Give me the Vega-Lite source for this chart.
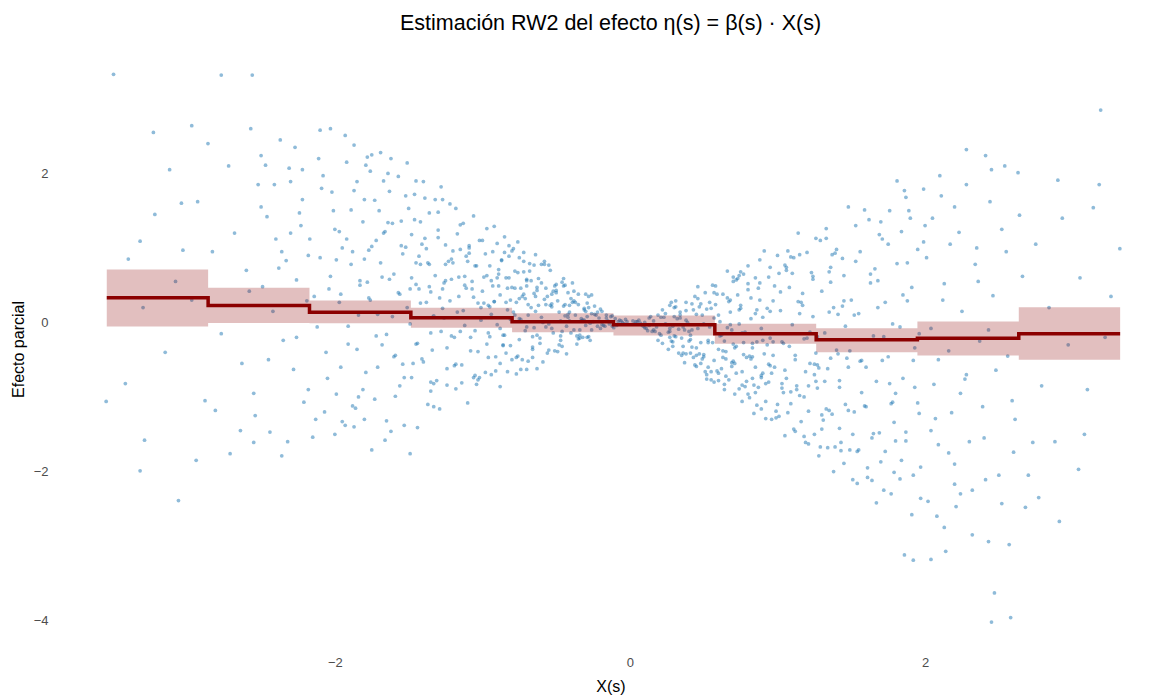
{
"$schema": "https://vega.github.io/schema/vega-lite/v6.json",
"width": 1109, "height": 602,
"autosize": {"type": "none"},
"padding": {"left": 56, "top": 48, "right": 0, "bottom": 48},
"background": "white",
"config": {"view": {"stroke": null}, "font": "Liberation Sans",
  "axis": {"domain": false, "ticks": false, "grid": false, "labelColor": "#4D4D4D", "labelFontSize": 13, "labelFont": "Liberation Sans", "titleFont": "Liberation Sans", "titleFontSize": 16, "titleFontWeight": "normal", "titleColor": "black", "format": "~g"}},
"title": {"text": "Estimación RW2 del efecto η(s) = β(s) · X(s)", "fontSize": 21.5, "fontWeight": "normal", "color": "black", "anchor": "middle", "offset": 14, "font": "Liberation Sans"},
"datasets": {
"steps": [
{"x":-3.546,"est":0.332,"lo":-0.054,"hi":0.711},
{"x":-2.859,"est":0.228,"lo":-0.008,"hi":0.466},
{"x":-2.172,"est":0.138,"lo":-0.01,"hi":0.295},
{"x":-1.485,"est":0.063,"lo":-0.07,"hi":0.197},
{"x":-0.799,"est":0.008,"lo":-0.13,"hi":0.125},
{"x":-0.112,"est":-0.031,"lo":-0.175,"hi":0.094},
{"x":0.575,"est":-0.152,"lo":-0.286,"hi":-0.017},
{"x":1.262,"est":-0.232,"lo":-0.399,"hi":-0.077},
{"x":1.948,"est":-0.211,"lo":-0.443,"hi":0.013},
{"x":2.635,"est":-0.152,"lo":-0.501,"hi":0.205},
{"x":3.322,"est":-0.152,"lo":-0.501,"hi":0.205}
],
"pts": [
{"x":-0.03,"y":0.04},{"x":-0.06,"y":0.02},{"x":-0.08,"y":0.01},{"x":-0.11,"y":-0.07},{"x":-0.13,"y":0.08},{"x":-0.15,"y":0.02},{"x":-0.17,"y":-0.05},{"x":-0.19,"y":0.15},{"x":-0.21,"y":0.06},{"x":-0.22,"y":-0.05},{"x":-0.24,"y":0.22},{"x":-0.26,"y":0.12},{"x":-0.27,"y":-0.01},{"x":-0.29,"y":-0.2},{"x":-0.31,"y":0.17},{"x":-0.32,"y":0.03},{"x":-0.34,"y":-0.17},{"x":-0.35,"y":0.24},{"x":-0.37,"y":0.1},{"x":-0.38,"y":-0.1},{"x":-0.4,"y":0.32},{"x":-0.41,"y":0.14},{"x":-0.43,"y":-0.05},{"x":-0.44,"y":0.5},{"x":-0.45,"y":0.22},{"x":-0.47,"y":0.02},{"x":-0.48,"y":-0.3},{"x":-0.49,"y":0.29},{"x":-0.05,"y":0},{"x":-0.09,"y":-0.04},{"x":-0.12,"y":0.09},{"x":-0.16,"y":0.06},{"x":-0.18,"y":-0.04},{"x":-0.2,"y":0.18},{"x":-0.23,"y":0.1},{"x":-0.25,"y":0.01},{"x":-0.28,"y":-0.19},{"x":-0.3,"y":0.15},{"x":-0.33,"y":0.05},{"x":-0.36,"y":-0.18},{"x":-0.39,"y":0.27},{"x":-0.42,"y":0.11},{"x":-0.46,"y":-0.12},{"x":-0.5,"y":0.4},{"x":-0.07,"y":0.03},{"x":-0.14,"y":-0.02},{"x":-0.24,"y":0.11},{"x":-0.31,"y":0.03},{"x":-0.35,"y":-0.22},{"x":-0.41,"y":0.23},{"x":-0.44,"y":0.09},{"x":-0.47,"y":-0.18},{"x":-0.38,"y":0.29},{"x":-0.29,"y":0.08},{"x":-0.19,"y":-0.03},
{"x":-0.51,"y":0.49},{"x":-0.53,"y":0.21},{"x":-0.55,"y":-0.02},{"x":-0.56,"y":-0.41},{"x":-0.58,"y":0.31},{"x":-0.6,"y":0.07},{"x":-0.61,"y":-0.28},{"x":-0.63,"y":0.43},{"x":-0.64,"y":0.15},{"x":-0.66,"y":-0.19},{"x":-0.67,"y":0.56},{"x":-0.69,"y":0.24},{"x":-0.7,"y":-0.06},{"x":-0.72,"y":0.82},{"x":-0.73,"y":0.35},{"x":-0.75,"y":0.05},{"x":-0.76,"y":-0.45},{"x":-0.78,"y":0.46},{"x":-0.79,"y":0.14},{"x":-0.81,"y":-0.31},{"x":-0.82,"y":0.6},{"x":-0.84,"y":0.27},{"x":-0.85,"y":-0.17},{"x":-0.87,"y":0.84},{"x":-0.88,"y":0.37},{"x":-0.9,"y":-0.03},{"x":-0.91,"y":-0.65},{"x":-0.93,"y":0.49},{"x":-0.94,"y":0.11},{"x":-0.96,"y":-0.47},{"x":-0.97,"y":0.63},{"x":-0.99,"y":0.26},{"x":-0.52,"y":-0.14},{"x":-0.57,"y":0.46},{"x":-0.62,"y":0.23},{"x":-0.65,"y":-0.07},{"x":-0.68,"y":0.79},{"x":-0.71,"y":0.32},{"x":-0.74,"y":0.04},{"x":-0.77,"y":-0.47},{"x":-0.8,"y":0.47},{"x":-0.83,"y":0.17},{"x":-0.86,"y":-0.31},{"x":-0.89,"y":0.65},{"x":-0.92,"y":0.28},{"x":-0.95,"y":-0.19},{"x":-0.98,"y":0.92},{"x":-0.54,"y":0.23},{"x":-0.59,"y":0},{"x":-0.66,"y":-0.47},{"x":-0.72,"y":0.38},{"x":-0.78,"y":0.1},{"x":-0.84,"y":-0.41},{"x":-0.9,"y":0.6},{"x":-0.96,"y":0.23},{"x":-0.63,"y":-0.17},{"x":-0.7,"y":0.58},{"x":-0.81,"y":0.3},{"x":-0.88,"y":-0.08},{"x":-0.75,"y":0.87},
{"x":-1.01,"y":0.2},{"x":-1.03,"y":-0.39},{"x":-1.04,"y":0.76},{"x":-1.06,"y":0.34},{"x":-1.08,"y":-0.2},{"x":-1.09,"y":1.03},{"x":-1.11,"y":0.46},{"x":-1.12,"y":-0.04},{"x":-1.14,"y":-0.81},{"x":-1.16,"y":0.61},{"x":-1.17,"y":0.14},{"x":-1.19,"y":-0.58},{"x":-1.2,"y":0.8},{"x":-1.22,"y":0.29},{"x":-1.24,"y":-0.34},{"x":-1.25,"y":1.04},{"x":-1.27,"y":0.45},{"x":-1.28,"y":-0.12},{"x":-1.3,"y":1.48},{"x":-1.32,"y":0.63},{"x":-1.33,"y":0.09},{"x":-1.35,"y":-0.8},{"x":-1.36,"y":0.78},{"x":-1.38,"y":0.27},{"x":-1.4,"y":-0.53},{"x":-1.41,"y":1.05},{"x":-1.43,"y":0.45},{"x":-1.44,"y":-0.28},{"x":-1.46,"y":1.38},{"x":-1.48,"y":0.6},{"x":-1.49,"y":-0.02},{"x":-1.02,"y":-0.74},{"x":-1.07,"y":0.55},{"x":-1.13,"y":0.16},{"x":-1.18,"y":-0.56},{"x":-1.23,"y":0.82},{"x":-1.29,"y":0.33},{"x":-1.34,"y":-0.37},{"x":-1.39,"y":1.13},{"x":-1.45,"y":0.51},{"x":-1.05,"y":-0.11},{"x":-1.15,"y":1.31},{"x":-1.21,"y":0.58},{"x":-1.26,"y":0.06},{"x":-1.31,"y":-0.78},{"x":-1.37,"y":0.8},{"x":-1.42,"y":0.26},{"x":-1.47,"y":-0.55},{"x":-1.1,"y":0.82},{"x":-1.35,"y":0.41},
{"x":-1.51,"y":0.2},{"x":-1.53,"y":-0.74},{"x":-1.55,"y":1.03},{"x":-1.57,"y":0.4},{"x":-1.59,"y":-0.44},{"x":-1.61,"y":1.33},{"x":-1.63,"y":0.58},{"x":-1.65,"y":-0.16},{"x":-1.67,"y":1.9},{"x":-1.69,"y":0.8},{"x":-1.71,"y":0.11},{"x":-1.73,"y":-1.03},{"x":-1.75,"y":1.02},{"x":-1.77,"y":0.33},{"x":-1.79,"y":-0.67},{"x":-1.81,"y":1.35},{"x":-1.83,"y":0.56},{"x":-1.85,"y":-0.36},{"x":-1.87,"y":1.77},{"x":-1.89,"y":0.78},{"x":-1.91,"y":-0.05},{"x":-1.93,"y":-1.38},{"x":-1.95,"y":1.0},{"x":-1.97,"y":0.27},{"x":-1.99,"y":-0.96},{"x":-1.52,"y":1.01},{"x":-1.56,"y":0.38},{"x":-1.6,"y":-0.46},{"x":-1.64,"y":1.34},{"x":-1.68,"y":0.61},{"x":-1.72,"y":-0.18},{"x":-1.76,"y":2.03},{"x":-1.8,"y":0.85},{"x":-1.84,"y":0.1},{"x":-1.88,"y":-1.12},{"x":-1.92,"y":1.12},{"x":-1.96,"y":0.38},{"x":-1.54,"y":-0.56},{"x":-1.66,"y":1.22},{"x":-1.78,"y":0.54},
{"x":-2.01,"y":1.5},{"x":-2.03,"y":0.62},{"x":-2.06,"y":-0.4},{"x":-2.08,"y":1.97},{"x":-2.1,"y":0.87},{"x":-2.12,"y":-0.06},{"x":-2.15,"y":-1.54},{"x":-2.17,"y":1.12},{"x":-2.19,"y":0.29},{"x":-2.21,"y":-1.07},{"x":-2.24,"y":1.47},{"x":-2.26,"y":0.57},{"x":-2.28,"y":-0.63},{"x":-2.3,"y":1.89},{"x":-2.33,"y":0.83},{"x":-2.35,"y":-0.24},{"x":-2.37,"y":2.45},{"x":-2.4,"y":1.12},{"x":-2.42,"y":0.15},{"x":-2.44,"y":-1.47},{"x":-2.46,"y":1.42},{"x":-2.49,"y":0.48},{"x":-2.05,"y":-0.75},{"x":-2.22,"y":1.65},{"x":-2.38,"y":0.73},
{"x":-2.52,"y":1.85},{"x":-2.58,"y":0.42},{"x":-2.63,"y":-0.55},{"x":-2.68,"y":1.2},{"x":-2.72,"y":2.1},{"x":-2.77,"y":-0.15},{"x":-2.83,"y":0.95},{"x":-2.88,"y":-1.05},{"x":-2.93,"y":1.62},{"x":-2.97,"y":0.3},{"x":-2.55,"y":-0.95},{"x":-2.86,"y":2.4},
{"x":-3.08,"y":0.55},{"x":-3.15,"y":-0.4},{"x":-3.22,"y":1.45},{"x":-3.3,"y":0.2},{"x":-3.4,"y":0.85},{"x":-3.12,"y":2.05},
{"x":-3.5,"y":3.33},{"x":-2.77,"y":3.32},{"x":-2.56,"y":3.32},{"x":-3.23,"y":2.55},{"x":-2.97,"y":2.64},{"x":-2.5,"y":2.24},{"x":-3.04,"y":1.6},{"x":-3.32,"y":1.09},{"x":-3.03,"y":0.97},{"x":-3.55,"y":-1.06},{"x":-3.42,"y":-0.82},{"x":-3.29,"y":-1.58},{"x":-3.32,"y":-1.99},{"x":-3.06,"y":-2.39},{"x":-2.94,"y":-1.85},{"x":-2.71,"y":-1.76},{"x":-2.55,"y":-1.61},{"x":-2.64,"y":-1.45},{"x":-2.81,"y":-1.18},
{"x":-2.1,"y":2.58},{"x":-2.03,"y":2.6},{"x":-1.87,"y":2.38},{"x":-2.31,"y":2.07},{"x":-2.47,"y":2.11},{"x":-1.62,"y":2.2},{"x":-1.45,"y":1.9},{"x":-1.75,"y":2.25},{"x":-2.36,"y":-1.79},{"x":-1.49,"y":-1.76},{"x":-1.66,"y":-1.58},{"x":-2.0,"y":-1.5},{"x":-1.8,"y":-1.3},
{"x":-0.26,"y":0.37},{"x":-0.27,"y":-0.24},{"x":-0.29,"y":0.26},{"x":-0.3,"y":0.38},{"x":-0.32,"y":-0.2},{"x":-0.33,"y":0.02},{"x":-0.35,"y":0.38},{"x":-0.36,"y":-0.29},{"x":-0.37,"y":0.27},{"x":-0.39,"y":0.53},{"x":-0.4,"y":-0.14},{"x":-0.42,"y":0.4},{"x":-0.43,"y":-0.42},{"x":-0.44,"y":0.24},{"x":-0.46,"y":0.54},{"x":-0.47,"y":-0.24},{"x":-0.48,"y":0.14},{"x":-0.5,"y":0.51},{"x":-0.51,"y":-0.38},{"x":-0.52,"y":0.42},{"x":-0.53,"y":-0.08},{"x":-0.54,"y":0.7},{"x":-0.55,"y":-0.37},{"x":-0.56,"y":0.35},{"x":-0.57,"y":0.24},{"x":-0.58,"y":0.82},{"x":-0.59,"y":-0.53},{"x":-0.6,"y":0.53},{"x":-0.28,"y":0.35},{"x":-0.34,"y":-0.21},{"x":-0.41,"y":0.02},{"x":-0.45,"y":0.49},{"x":-0.49,"y":-0.39},{"x":-0.53,"y":0.38},{"x":-0.58,"y":0.78},
{"x":-0.61,"y":-0.21},{"x":-0.62,"y":0.59},{"x":-0.63,"y":-0.62},{"x":-0.64,"y":0.35},{"x":-0.65,"y":0.77},{"x":-0.66,"y":-0.33},{"x":-0.67,"y":0.2},{"x":-0.68,"y":0.69},{"x":-0.69,"y":-0.52},{"x":-0.7,"y":0.56},{"x":-0.71,"y":-0.11},{"x":-0.72,"y":0.94},{"x":-0.73,"y":-0.5},{"x":-0.74,"y":0.46},{"x":-0.75,"y":0.32},{"x":-0.76,"y":1.08},{"x":-0.77,"y":-0.69},{"x":-0.78,"y":0.69},{"x":-0.79,"y":0.99},{"x":-0.8,"y":-0.5},{"x":-0.81,"y":0.04},{"x":-0.82,"y":0.89},{"x":-0.83,"y":-0.66},{"x":-0.84,"y":0.6},{"x":-0.85,"y":1.15},{"x":-0.86,"y":-0.3},{"x":-0.87,"y":0.83},{"x":-0.88,"y":-0.86},{"x":-0.89,"y":0.49},{"x":-0.9,"y":1.06},{"x":-0.91,"y":-0.46},{"x":-0.92,"y":0.28},{"x":-0.93,"y":0.95},{"x":-0.94,"y":-0.7},{"x":-0.95,"y":0.76},{"x":-0.96,"y":-0.14},{"x":-0.97,"y":1.26},{"x":-0.98,"y":-0.67},{"x":-0.99,"y":0.61},{"x":-1.0,"y":0.42},{"x":-0.64,"y":0.91},{"x":-0.7,"y":-0.63},{"x":-0.76,"y":0.67},{"x":-0.82,"y":1.03},{"x":-0.88,"y":-0.55},
{"x":-1.01,"y":0.03},{"x":-1.02,"y":1.1},{"x":-1.04,"y":-0.83},{"x":-1.05,"y":0.76},{"x":-1.06,"y":1.43},{"x":-1.08,"y":-0.38},{"x":-1.09,"y":1.0},{"x":-1.1,"y":-1.08},{"x":-1.12,"y":0.62},{"x":-1.13,"y":1.33},{"x":-1.14,"y":-0.57},{"x":-1.16,"y":0.35},{"x":-1.17,"y":1.19},{"x":-1.18,"y":-0.89},{"x":-1.2,"y":0.96},{"x":-1.21,"y":-0.18},{"x":-1.22,"y":1.59},{"x":-1.24,"y":-0.84},{"x":-1.25,"y":0.78},{"x":-1.26,"y":0.53},{"x":-1.28,"y":1.82},{"x":-1.29,"y":-1.16},{"x":-1.3,"y":1.14},{"x":-1.32,"y":1.65},{"x":-1.33,"y":-0.82},{"x":-1.34,"y":0.07},{"x":-1.36,"y":1.47},{"x":-1.37,"y":-1.1},{"x":-1.38,"y":0.99},{"x":-1.4,"y":1.89},{"x":-1.41,"y":-0.49},{"x":-1.42,"y":1.35},{"x":-1.44,"y":-1.41},{"x":-1.45,"y":0.8},{"x":-1.46,"y":1.72},{"x":-1.48,"y":-0.74},{"x":-1.49,"y":0.45},{"x":-1.5,"y":1.53},{"x":-1.03,"y":-0.77},{"x":-1.11,"y":0.89},{"x":-1.19,"y":-0.2},{"x":-1.27,"y":1.65},{"x":-1.35,"y":-0.92},{"x":-1.43,"y":0.89},{"x":-1.07,"y":0.45},
{"x":-1.51,"y":2.14},{"x":-1.53,"y":-1.38},{"x":-1.55,"y":1.36},{"x":-1.57,"y":1.96},{"x":-1.59,"y":-0.99},{"x":-1.61,"y":0.08},{"x":-1.63,"y":1.76},{"x":-1.65,"y":-1.32},{"x":-1.67,"y":1.2},{"x":-1.69,"y":2.28},{"x":-1.71,"y":-0.6},{"x":-1.73,"y":1.64},{"x":-1.75,"y":-1.71},{"x":-1.77,"y":0.97},{"x":-1.79,"y":2.11},{"x":-1.81,"y":-0.9},{"x":-1.83,"y":0.5},{"x":-1.85,"y":1.89},{"x":-1.87,"y":-1.4},{"x":-1.89,"y":1.51},{"x":-1.91,"y":-0.29},{"x":-1.93,"y":2.51},{"x":-1.95,"y":-1.33},{"x":-1.97,"y":1.22},{"x":-1.99,"y":0.84},{"x":-1.54,"y":0.92},{"x":-1.62,"y":-1.46},{"x":-1.7,"y":1.5},{"x":-1.78,"y":2.22},{"x":-1.86,"y":-1.15},
{"x":-2.02,"y":1.75},{"x":-2.07,"y":-1.2},{"x":-2.11,"y":2.2},{"x":-2.14,"y":0.35},{"x":-2.18,"y":-0.9},{"x":-2.23,"y":1.3},{"x":-2.27,"y":2.35},{"x":-2.32,"y":-1.6},{"x":-2.36,"y":0.95},{"x":-2.41,"y":1.85},{"x":-2.45,"y":-0.5},{"x":-2.5,"y":1.55},{"x":-2.54,"y":-1.25},{"x":-2.57,"y":2.6},{"x":-2.6,"y":0.7},
{"x":-0.31,"y":0.19},{"x":-0.34,"y":-0.1},{"x":-0.38,"y":0.42},{"x":-0.42,"y":0.07},{"x":-0.46,"y":-0.32},{"x":-0.5,"y":0.43},{"x":-0.53,"y":0.25},{"x":-0.57,"y":-0.06},{"x":-0.6,"y":0.78},{"x":-0.63,"y":0.47},{"x":-0.66,"y":-0.36},{"x":-0.69,"y":0.1},{"x":-0.72,"y":0.68},{"x":-0.74,"y":-0.63},{"x":-0.77,"y":0.27},{"x":-0.8,"y":0.96},{"x":-0.83,"y":0.46},{"x":-0.86,"y":-0.17},{"x":-0.89,"y":0.71},{"x":-0.92,"y":1.29},{"x":-0.94,"y":0.56},{"x":-0.97,"y":-0.29},{"x":-1.0,"y":1.1},{"x":-1.03,"y":0.26},{"x":-1.06,"y":-0.74},{"x":-1.09,"y":0.93},{"x":-1.12,"y":0.5},{"x":-1.15,"y":-0.12},{"x":-1.18,"y":1.53},{"x":-1.21,"y":0.85},{"x":-1.24,"y":-0.62},{"x":-1.27,"y":0.19},{"x":-1.3,"y":1.24},{"x":-1.33,"y":-1.13},{"x":-1.36,"y":0.48},{"x":-1.39,"y":1.67},{"x":-1.42,"y":0.78},{"x":-1.45,"y":-0.29},{"x":-1.48,"y":1.18},{"x":-0.55,"y":0.77},{"x":-0.65,"y":0.39},{"x":-0.75,"y":-0.23},{"x":-0.85,"y":0.94},{"x":-0.95,"y":0.21},{"x":-1.05,"y":-0.71},{"x":-1.15,"y":0.98},{"x":-1.25,"y":0.56},{"x":-1.35,"y":-0.14},{"x":-0.45,"y":0.59},{"x":-0.7,"y":0.49},
{"x":-1.52,"y":1.7},{"x":-1.56,"y":-0.85},{"x":-1.6,"y":0.65},{"x":-1.64,"y":2.0},{"x":-1.68,"y":-0.3},{"x":-1.72,"y":1.1},{"x":-1.76,"y":0.3},{"x":-1.8,"y":1.65},{"x":-1.84,"y":-1.0},{"x":-1.88,"y":0.95},{"x":-1.92,"y":2.15},{"x":-1.96,"y":-0.6},{"x":-2.0,"y":1.25},{"x":-2.04,"y":0.45},{"x":-2.09,"y":1.8},{"x":-2.13,"y":-1.3},{"x":-2.18,"y":0.9},{"x":-2.22,"y":2.05},{"x":-2.26,"y":-0.2},{"x":-2.3,"y":1.2},
{"x":-0.02,"y":0.01},{"x":-0.04,"y":-0.02},{"x":-0.1,"y":0.05},{"x":-0.12,"y":-0.05},{"x":-0.16,"y":0.1},{"x":-0.2,"y":-0.08},{"x":-0.22,"y":0.14},{"x":-0.26,"y":-0.1},{"x":-0.28,"y":0.2},{"x":-0.3,"y":-0.04},
{"x":0.03,"y":-0.02},{"x":0.05,"y":0.01},{"x":0.1,"y":-0.07},{"x":0.13,"y":0.06},{"x":0.16,"y":-0.1},{"x":0.19,"y":0.1},{"x":0.21,"y":-0.17},{"x":0.24,"y":0.12},{"x":0.27,"y":-0.2},{"x":0.29,"y":-0.05},
{"x":0.02,"y":0.02},{"x":0.04,"y":0.01},{"x":0.07,"y":-0.01},{"x":0.09,"y":-0.05},{"x":0.12,"y":-0.11},{"x":0.14,"y":0.08},{"x":0.16,"y":0.02},{"x":0.18,"y":-0.06},{"x":0.2,"y":-0.15},{"x":0.22,"y":-0.28},{"x":0.23,"y":0.07},{"x":0.25,"y":-0.03},{"x":0.27,"y":-0.12},{"x":0.28,"y":-0.25},{"x":0.3,"y":0.2},{"x":0.32,"y":0.05},{"x":0.33,"y":-0.09},{"x":0.35,"y":-0.21},{"x":0.36,"y":-0.41},{"x":0.38,"y":0.16},{"x":0.39,"y":0},{"x":0.41,"y":-0.17},{"x":0.42,"y":-0.33},{"x":0.44,"y":0.35},{"x":0.45,"y":0.11},{"x":0.46,"y":-0.08},{"x":0.48,"y":-0.27},{"x":0.49,"y":-0.49},{"x":0.06,"y":0.03},{"x":0.1,"y":0},{"x":0.13,"y":-0.04},{"x":0.17,"y":-0.12},{"x":0.19,"y":-0.24},{"x":0.21,"y":0.07},{"x":0.24,"y":-0.02},{"x":0.26,"y":-0.13},{"x":0.29,"y":-0.26},{"x":0.31,"y":0.21},{"x":0.34,"y":0.06},{"x":0.37,"y":-0.1},{"x":0.4,"y":-0.25},{"x":0.43,"y":-0.47},{"x":0.47,"y":0.21},{"x":0.5,"y":-0.02},{"x":0.08,"y":-0.03},{"x":0.15,"y":-0.12},{"x":0.22,"y":0.17},{"x":0.3,"y":0.08},{"x":0.36,"y":-0.06},{"x":0.41,"y":-0.23},{"x":0.45,"y":-0.44},{"x":0.48,"y":0.25},{"x":0.38,"y":0.03},{"x":0.27,"y":-0.08},{"x":0.11,"y":-0.08},
{"x":0.51,"y":-0.66},{"x":0.52,"y":0.18},{"x":0.54,"y":-0.06},{"x":0.56,"y":-0.27},{"x":0.57,"y":-0.51},{"x":0.59,"y":0.38},{"x":0.6,"y":0.1},{"x":0.62,"y":-0.17},{"x":0.63,"y":-0.38},{"x":0.65,"y":-0.72},{"x":0.67,"y":0.28},{"x":0.68,"y":-0.03},{"x":0.7,"y":-0.29},{"x":0.71,"y":-0.55},{"x":0.73,"y":0.59},{"x":0.74,"y":0.17},{"x":0.76,"y":-0.14},{"x":0.77,"y":-0.43},{"x":0.79,"y":-0.79},{"x":0.8,"y":0.44},{"x":0.82,"y":0.05},{"x":0.83,"y":-0.28},{"x":0.85,"y":-0.6},{"x":0.86,"y":-1.11},{"x":0.88,"y":0.3},{"x":0.89,"y":-0.08},{"x":0.91,"y":-0.42},{"x":0.92,"y":-0.82},{"x":0.94,"y":0.61},{"x":0.95,"y":0.15},{"x":0.97,"y":-0.26},{"x":0.98,"y":-0.6},{"x":0.53,"y":-0.6},{"x":0.58,"y":0.24},{"x":0.61,"y":0.01},{"x":0.64,"y":-0.25},{"x":0.69,"y":-0.54},{"x":0.72,"y":0.57},{"x":0.75,"y":0.19},{"x":0.78,"y":-0.13},{"x":0.81,"y":-0.45},{"x":0.84,"y":-0.84},{"x":0.87,"y":0.46},{"x":0.9,"y":0.07},{"x":0.93,"y":-0.3},{"x":0.96,"y":-0.68},{"x":0.99,"y":-1.28},{"x":0.55,"y":0.19},{"x":0.66,"y":-0.07},{"x":0.71,"y":-0.34},{"x":0.76,"y":-0.66},{"x":0.8,"y":0.52},{"x":0.85,"y":0.12},{"x":0.9,"y":-0.24},{"x":0.95,"y":-0.58},{"x":0.6,"y":-0.68},{"x":0.68,"y":0.3},{"x":0.74,"y":-0.02},{"x":0.83,"y":-0.34},{"x":0.89,"y":-0.71},
{"x":1.01,"y":0.66},{"x":1.02,"y":0.16},{"x":1.04,"y":-0.28},{"x":1.05,"y":-0.64},{"x":1.07,"y":-1.21},{"x":1.08,"y":0.47},{"x":1.1,"y":-0.03},{"x":1.12,"y":-0.44},{"x":1.13,"y":-0.9},{"x":1.15,"y":0.91},{"x":1.16,"y":0.27},{"x":1.18,"y":-0.22},{"x":1.19,"y":-0.66},{"x":1.21,"y":-1.19},{"x":1.23,"y":0.67},{"x":1.24,"y":0.08},{"x":1.26,"y":-0.41},{"x":1.27,"y":-0.88},{"x":1.29,"y":-1.67},{"x":1.3,"y":0.42},{"x":1.32,"y":-0.14},{"x":1.34,"y":-0.62},{"x":1.35,"y":-1.18},{"x":1.37,"y":0.91},{"x":1.38,"y":0.2},{"x":1.4,"y":-0.37},{"x":1.42,"y":-0.87},{"x":1.43,"y":-1.61},{"x":1.45,"y":0.63},{"x":1.46,"y":-0.05},{"x":1.48,"y":-0.6},{"x":1.03,"y":-0.82},{"x":1.09,"y":0.88},{"x":1.14,"y":0.28},{"x":1.2,"y":-0.21},{"x":1.25,"y":-0.7},{"x":1.31,"y":-1.31},{"x":1.36,"y":0.74},{"x":1.41,"y":0.11},{"x":1.47,"y":-0.48},{"x":1.06,"y":-0.75},{"x":1.11,"y":-1.43},{"x":1.17,"y":0.39},{"x":1.22,"y":-0.13},{"x":1.28,"y":-0.61},{"x":1.33,"y":-1.16},{"x":1.39,"y":0.93},{"x":1.44,"y":0.22},{"x":1.49,"y":-0.38},{"x":1.26,"y":-0.79},
{"x":1.51,"y":-1.5},{"x":1.53,"y":0.82},{"x":1.55,"y":0.12},{"x":1.57,"y":-0.51},{"x":1.59,"y":-1.12},{"x":1.61,"y":-2.08},{"x":1.63,"y":0.53},{"x":1.65,"y":-0.18},{"x":1.67,"y":-0.79},{"x":1.69,"y":-1.48},{"x":1.71,"y":1.12},{"x":1.73,"y":0.27},{"x":1.75,"y":-0.46},{"x":1.77,"y":-1.09},{"x":1.79,"y":-2.01},{"x":1.81,"y":0.79},{"x":1.83,"y":-0.06},{"x":1.85,"y":-0.75},{"x":1.87,"y":-1.47},{"x":1.89,"y":1.5},{"x":1.91,"y":0.47},{"x":1.93,"y":-0.34},{"x":1.95,"y":-1.08},{"x":1.97,"y":-1.94},{"x":1.99,"y":1.08},{"x":1.52,"y":0.1},{"x":1.56,"y":-0.52},{"x":1.6,"y":-1.13},{"x":1.64,"y":-2.12},{"x":1.68,"y":0.56},{"x":1.72,"y":-0.19},{"x":1.76,"y":-0.82},{"x":1.8,"y":-1.59},{"x":1.84,"y":1.22},{"x":1.88,"y":0.29},{"x":1.92,"y":-0.51},{"x":1.96,"y":-1.22},{"x":1.54,"y":-1.73},{"x":1.66,"y":0.72},{"x":1.78,"y":-0.02},
{"x":2.01,"y":0.87},{"x":2.04,"y":-0.08},{"x":2.06,"y":-0.83},{"x":2.09,"y":-1.64},{"x":2.11,"y":1.7},{"x":2.13,"y":0.52},{"x":2.16,"y":-0.38},{"x":2.18,"y":-1.21},{"x":2.2,"y":-2.17},{"x":2.23,"y":1.21},{"x":2.25,"y":0.15},{"x":2.27,"y":-0.76},{"x":2.3,"y":-1.6},{"x":2.32,"y":-2.85},{"x":2.34,"y":0.78},{"x":2.37,"y":-0.25},{"x":2.39,"y":-1.13},{"x":2.41,"y":-2.11},{"x":2.44,"y":1.62},{"x":2.46,"y":0.36},{"x":2.48,"y":-0.64},{"x":2.07,"y":-1.29},{"x":2.21,"y":-2.47},{"x":2.35,"y":1.0},{"x":2.43,"y":-0.1},
{"x":2.52,"y":1.25},{"x":2.56,"y":-0.45},{"x":2.61,"y":-1.3},{"x":2.66,"y":0.62},{"x":2.7,"y":-2.05},{"x":2.75,"y":1.05},{"x":2.79,"y":-0.85},{"x":2.84,"y":0.2},{"x":2.88,"y":-1.6},{"x":2.93,"y":1.4},{"x":2.97,"y":-0.3},{"x":2.54,"y":2.1},
{"x":3.05,"y":0.6},{"x":3.1,"y":-0.9},{"x":3.18,"y":1.85},{"x":3.22,"y":-0.2},{"x":3.26,"y":0.35},{"x":3.08,"y":-1.5},
{"x":3.19,"y":2.85},{"x":2.9,"y":1.91},{"x":2.63,"y":2.01},{"x":3.32,"y":0.99},{"x":3.14,"y":1.54},{"x":3.04,"y":-1.97},{"x":2.91,"y":-2.67},{"x":2.47,"y":-3.63},{"x":2.45,"y":-4.02},{"x":2.58,"y":-3.96},{"x":2.77,"y":-2.35},{"x":2.68,"y":-2.48},{"x":2.73,"y":-1.61},{"x":2.6,"y":-1.74},{"x":2.57,"y":-2.98},{"x":2.43,"y":-2.94},{"x":2.52,"y":-2.43},{"x":2.14,"y":-3.07},{"x":2.04,"y":-3.18},{"x":1.92,"y":-3.19},{"x":1.86,"y":-3.12},{"x":2.28,"y":2.32},{"x":2.41,"y":2.24},{"x":2.64,"y":1.44},{"x":1.86,"y":1.77},{"x":2.1,"y":1.97},{"x":1.7,"y":1.35},
{"x":0.26,"y":-0.36},{"x":0.27,"y":0.23},{"x":0.29,"y":-0.32},{"x":0.3,"y":-0.18},{"x":0.31,"y":0.29},{"x":0.33,"y":-0.41},{"x":0.34,"y":0.14},{"x":0.36,"y":-0.32},{"x":0.37,"y":-0.54},{"x":0.38,"y":0.27},{"x":0.4,"y":-0.12},{"x":0.41,"y":-0.41},{"x":0.42,"y":0.25},{"x":0.44,"y":-0.57},{"x":0.45,"y":-0.34},{"x":0.46,"y":0.48},{"x":0.48,"y":-0.55},{"x":0.49,"y":0.1},{"x":0.5,"y":-0.43},{"x":0.51,"y":0.4},{"x":0.52,"y":-0.7},{"x":0.53,"y":-0.24},{"x":0.54,"y":0.27},{"x":0.55,"y":-0.66},{"x":0.56,"y":0.5},{"x":0.57,"y":-0.8},{"x":0.58,"y":0.49},{"x":0.59,"y":-0.65},{"x":0.6,"y":-0.36},{"x":0.28,"y":0.27},{"x":0.35,"y":-0.44},{"x":0.43,"y":0.17},{"x":0.47,"y":-0.42},{"x":0.52,"y":-0.76},{"x":0.57,"y":0.4},
{"x":0.61,"y":-0.18},{"x":0.62,"y":-0.62},{"x":0.63,"y":0.38},{"x":0.64,"y":-0.83},{"x":0.65,"y":-0.49},{"x":0.66,"y":0.69},{"x":0.67,"y":-0.77},{"x":0.68,"y":0.14},{"x":0.69,"y":-0.59},{"x":0.7,"y":0.55},{"x":0.71,"y":-0.96},{"x":0.72,"y":-0.32},{"x":0.73,"y":0.37},{"x":0.74,"y":-0.89},{"x":0.75,"y":0.68},{"x":0.76,"y":-1.06},{"x":0.77,"y":0.65},{"x":0.78,"y":-0.86},{"x":0.79,"y":-0.47},{"x":0.8,"y":0.76},{"x":0.81,"y":-1.01},{"x":0.82,"y":0.33},{"x":0.83,"y":-0.75},{"x":0.84,"y":-1.22},{"x":0.85,"y":0.6},{"x":0.86,"y":-0.26},{"x":0.87,"y":-0.87},{"x":0.88,"y":0.53},{"x":0.89,"y":-1.16},{"x":0.9,"y":-0.68},{"x":0.91,"y":0.96},{"x":0.92,"y":-1.06},{"x":0.93,"y":0.19},{"x":0.94,"y":-0.8},{"x":0.95,"y":0.74},{"x":0.96,"y":-1.3},{"x":0.97,"y":-0.44},{"x":0.98,"y":0.49},{"x":0.99,"y":-1.19},{"x":1.0,"y":0.9},{"x":0.64,"y":-0.9},{"x":0.7,"y":0.61},{"x":0.76,"y":-0.84},{"x":0.82,"y":-0.49},{"x":0.88,"y":0.84},
{"x":1.01,"y":-1.26},{"x":1.02,"y":0.41},{"x":1.04,"y":-0.94},{"x":1.05,"y":-1.52},{"x":1.06,"y":0.74},{"x":1.08,"y":-0.32},{"x":1.09,"y":-1.09},{"x":1.1,"y":0.66},{"x":1.12,"y":-1.46},{"x":1.13,"y":-0.85},{"x":1.14,"y":1.2},{"x":1.16,"y":-1.33},{"x":1.17,"y":0.23},{"x":1.18,"y":-1.0},{"x":1.2,"y":0.94},{"x":1.21,"y":-1.63},{"x":1.22,"y":-0.55},{"x":1.24,"y":0.62},{"x":1.25,"y":-1.5},{"x":1.26,"y":1.13},{"x":1.28,"y":-1.79},{"x":1.29,"y":1.1},{"x":1.3,"y":-1.43},{"x":1.32,"y":-0.79},{"x":1.33,"y":1.26},{"x":1.34,"y":-1.68},{"x":1.36,"y":0.54},{"x":1.37,"y":-1.23},{"x":1.38,"y":-2.0},{"x":1.4,"y":0.98},{"x":1.41,"y":-0.42},{"x":1.42,"y":-1.42},{"x":1.44,"y":0.86},{"x":1.45,"y":-1.89},{"x":1.46,"y":-1.1},{"x":1.48,"y":1.55},{"x":1.49,"y":-1.71},{"x":1.5,"y":0.3},{"x":1.03,"y":-0.88},{"x":1.11,"y":0.87},{"x":1.19,"y":-1.61},{"x":1.27,"y":-0.57},{"x":1.35,"y":0.68},{"x":1.43,"y":-1.72},{"x":1.07,"y":0.96},
{"x":1.51,"y":-2.11},{"x":1.53,"y":1.3},{"x":1.55,"y":-1.71},{"x":1.57,"y":-0.94},{"x":1.59,"y":1.51},{"x":1.61,"y":-1.95},{"x":1.63,"y":0.65},{"x":1.65,"y":-1.49},{"x":1.67,"y":-2.42},{"x":1.69,"y":1.18},{"x":1.71,"y":-0.51},{"x":1.73,"y":-1.73},{"x":1.75,"y":1.05},{"x":1.77,"y":-2.3},{"x":1.79,"y":-1.34},{"x":1.81,"y":1.9},{"x":1.83,"y":-2.1},{"x":1.85,"y":0.37},{"x":1.87,"y":-1.59},{"x":1.9,"y":1.4},{"x":1.91,"y":-2.58},{"x":1.93,"y":-0.87},{"x":1.95,"y":0.98},{"x":1.97,"y":-2.36},{"x":1.99,"y":1.79},{"x":1.54,"y":-2.16},{"x":1.62,"y":1.38},{"x":1.7,"y":-1.87},{"x":1.78,"y":-1.07},{"x":1.87,"y":1.68},
{"x":2.02,"y":-2.4},{"x":2.05,"y":1.4},{"x":2.09,"y":-0.5},{"x":2.13,"y":-2.75},{"x":2.17,"y":1.05},{"x":2.2,"y":-1.9},{"x":2.24,"y":-0.95},{"x":2.28,"y":1.85},{"x":2.32,"y":-2.25},{"x":2.36,"y":0.55},{"x":2.4,"y":-1.55},{"x":2.45,"y":2.05},{"x":2.5,"y":-2.05},{"x":2.55,"y":0.95},{"x":2.59,"y":-1.05},
{"x":0.31,"y":-0.19},{"x":0.34,"y":0.1},{"x":0.38,"y":-0.42},{"x":0.42,"y":-0.1},{"x":0.46,"y":0.32},{"x":0.5,"y":-0.46},{"x":0.53,"y":-0.27},{"x":0.57,"y":0.06},{"x":0.6,"y":-0.78},{"x":0.63,"y":-0.47},{"x":0.66,"y":0.33},{"x":0.69,"y":-0.1},{"x":0.72,"y":-0.68},{"x":0.74,"y":0.63},{"x":0.77,"y":-0.27},{"x":0.8,"y":-0.96},{"x":0.83,"y":-0.46},{"x":0.86,"y":0.17},{"x":0.89,"y":-0.74},{"x":0.92,"y":-1.29},{"x":0.94,"y":-0.56},{"x":0.97,"y":0.29},{"x":1.0,"y":-1.1},{"x":1.03,"y":-0.26},{"x":1.06,"y":0.7},{"x":1.09,"y":-0.93},{"x":1.12,"y":-0.5},{"x":1.15,"y":0.12},{"x":1.18,"y":-1.53},{"x":1.21,"y":-0.85},{"x":1.24,"y":0.58},{"x":1.27,"y":-0.19},{"x":1.3,"y":-1.24},{"x":1.33,"y":1.13},{"x":1.36,"y":-0.48},{"x":1.39,"y":-1.67},{"x":1.42,"y":-0.78},{"x":1.45,"y":0.29},{"x":1.48,"y":-1.18},{"x":0.55,"y":-0.77},{"x":0.65,"y":-0.39},{"x":0.75,"y":0.23},{"x":0.85,"y":-0.94},{"x":0.95,"y":-0.21},{"x":1.05,"y":0.77},{"x":1.15,"y":-0.98},{"x":1.25,"y":-0.56},{"x":1.35,"y":0.14},{"x":0.45,"y":-0.59},{"x":0.7,"y":-0.52},
{"x":1.52,"y":-1.2},{"x":1.56,"y":0.95},{"x":1.6,"y":-0.6},{"x":1.64,"y":-1.55},{"x":1.68,"y":0.2},{"x":1.72,"y":-2.25},{"x":1.76,"y":1.5},{"x":1.8,"y":-0.95},{"x":1.84,"y":-1.85},{"x":1.88,"y":0.8},{"x":1.92,"y":-2.05},{"x":1.96,"y":-0.15},{"x":2.0,"y":1.3},{"x":2.04,"y":-1.45},{"x":2.08,"y":-2.6},{"x":2.12,"y":0.3},{"x":2.16,"y":-1.75},{"x":2.2,"y":1.55},{"x":2.24,"y":-2.3},{"x":2.28,"y":-0.7}
]},
"layer": [
{"data": {"name": "pts"},
 "mark": {"type": "circle", "size": 14, "color": "#1f77b4", "opacity": 0.5},
 "encoding": {
  "x": {"field": "x", "type": "quantitative", "title": "X(s)", "scale": {"domain": [-3.89, 3.626], "nice": false, "zero": false},
        "axis": {"values": [-2, 0, 2], "labelPadding": 6, "titlePadding": 9}},
  "y": {"field": "y", "type": "quantitative", "title": "Efecto parcial", "scale": {"domain": [-4.395, 3.683], "nice": false, "zero": false},
        "axis": {"values": [-4, -2, 0, 2], "labelPadding": 8, "titlePadding": 7}}}},
{"data": {"name": "steps"},
 "mark": {"type": "area", "interpolate": "step-after", "color": "#8B0000", "opacity": 0.25},
 "encoding": {
  "x": {"field": "x", "type": "quantitative", "title": "X(s)"},
  "y": {"field": "lo", "type": "quantitative", "title": "Efecto parcial"},
  "y2": {"field": "hi"}}},
{"data": {"name": "steps"},
 "mark": {"type": "line", "interpolate": "step-after", "color": "#8B0000", "strokeWidth": 3.5},
 "encoding": {
  "x": {"field": "x", "type": "quantitative", "title": "X(s)"},
  "y": {"field": "est", "type": "quantitative", "title": "Efecto parcial"}}},
{"mark": {"type": "rule", "color": "black", "strokeDash": [7, 7], "strokeWidth": 1.4},
 "encoding": {"y": {"datum": 0}}}
]
}
